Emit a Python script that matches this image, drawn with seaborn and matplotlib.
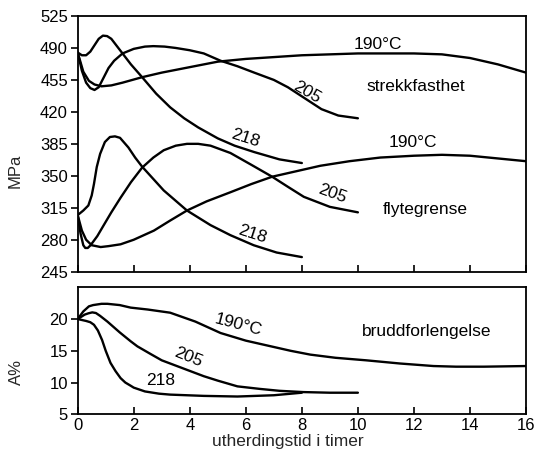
import matplotlib
matplotlib.use("Agg")
import matplotlib.pyplot as plt
import seaborn as sns

# ---------------- data ----------------
x_ticks = [0, 2, 4, 6, 8, 10, 12, 14, 16]
mpa_ticks = [245, 280, 315, 350, 385, 420, 455, 490, 525]
a_ticks = [5, 10, 15, 20]

# strekkfasthet (tensile strength), MPa
ts190_t = [0, 0.2, 0.4, 0.6, 0.85, 1.2, 1.6, 2.3, 3, 4, 5, 6, 7, 8, 9, 10, 11, 12, 13, 14, 15, 16]
ts190_v = [485, 464, 454, 450, 448, 449, 452, 458, 463, 469, 475, 478, 480, 482, 483, 484, 484, 484, 483, 479, 472, 463]

ts205_t = [0, 0.15, 0.3, 0.45, 0.6, 0.75, 0.9, 1.1, 1.3, 1.6, 2.0, 2.4, 2.7, 3.1, 3.5, 4.0, 4.5, 5.1, 5.7, 6.3, 7.0, 7.5, 8.0, 8.7, 9.3, 10]
ts205_v = [485, 465, 452, 446, 444, 447, 456, 468, 476, 484, 489, 491.5, 492, 491.5, 490, 487.5, 484, 476, 470, 463, 455, 447, 437, 423, 416, 413]

ts218_t = [0, 0.15, 0.3, 0.45, 0.6, 0.75, 0.9, 1.05, 1.2, 1.4, 1.6, 1.9, 2.3, 2.8, 3.3, 3.8, 4.3, 5.0, 5.6, 6.3, 7.2, 8.0]
ts218_v = [485, 482, 482, 486, 493, 500, 503.5, 503, 500, 492, 484, 472, 458, 440, 425, 413, 403, 391, 383, 376, 368, 364]

# flytegrense (yield strength), MPa
ys190_t = [0, 0.15, 0.3, 0.5, 0.82, 1.1, 1.53, 2.0, 2.72, 3.3, 3.9, 4.6, 5.45, 6.2, 6.94, 7.8, 8.66, 9.7, 10.8, 12, 13, 14, 15, 16]
ys190_v = [307, 290, 280, 274, 272, 273, 275, 280, 290, 301, 312, 322, 332, 341, 349, 355, 361, 366, 370, 372, 373, 372, 369, 366]

ys205_t = [0, 0.1, 0.2, 0.27, 0.36, 0.46, 0.7, 0.93, 1.2, 1.53, 1.9, 2.3, 2.7, 3.07, 3.5, 3.9, 4.3, 4.74, 5.45, 6.2, 6.94, 7.5, 8.07, 9.0, 10]
ys205_v = [307, 287, 274, 271, 271, 274, 284, 296, 310, 326, 343, 359, 370, 378, 383, 385, 385, 383, 375, 362, 349, 338, 327, 316, 310]

ys218_t = [0, 0.2, 0.38, 0.5, 0.58, 0.68, 0.8, 0.97, 1.15, 1.33, 1.51, 1.81, 2.05, 2.3, 3.07, 3.9, 4.74, 5.45, 6.28, 7.1, 8.0]
ys218_v = [307, 312, 317.5, 328.5, 341, 359.6, 374, 387, 392.5, 393.2, 391.6, 381, 370, 360, 334, 312, 296, 285, 274, 266, 261]

# bruddforlengelse (elongation), A%
el190_t = [0, 0.2, 0.4, 0.55, 0.85, 1.06, 1.5, 1.89, 2.5, 3.3, 4.2, 5.1, 6.0, 6.9, 7.6, 8.3, 9.2, 10.3, 11.5, 12.7, 13.5, 14.5, 16]
el190_v = [20, 21.2, 22.0, 22.2, 22.4, 22.4, 22.2, 21.8, 21.5, 21.0, 19.6, 17.8, 16.6, 15.7, 15.0, 14.4, 13.9, 13.5, 13.0, 12.6, 12.5, 12.5, 12.6]

el205_t = [0, 0.25, 0.38, 0.52, 0.65, 0.8, 1.06, 1.5, 1.89, 2.13, 2.6, 3.0, 3.9, 4.5, 5.0, 5.7, 6.5, 7.2, 8.05, 9.0, 10]
el205_v = [20, 20.7, 20.9, 21.05, 20.95, 20.5, 19.6, 17.9, 16.5, 15.7, 14.5, 13.5, 12.0, 11.0, 10.3, 9.4, 9.0, 8.7, 8.5, 8.4, 8.4]

el218_t = [0, 0.3, 0.45, 0.58, 0.72, 0.87, 1.0, 1.17, 1.35, 1.53, 1.7, 1.89, 2.0, 2.2, 2.4, 2.9, 3.3, 4.5, 5.7, 7.0, 8.0]
el218_v = [20, 19.7, 19.5, 19.1, 18.2, 16.7, 15.0, 13.1, 11.8, 10.7, 10.0, 9.5, 9.2, 8.9, 8.6, 8.25, 8.1, 7.9, 7.8, 8.0, 8.4]

# ---------------- style ----------------
sns.set_theme(style="ticks")
plt.rcParams['font.family'] = ['Liberation Sans', 'DejaVu Sans']
plt.rcParams['axes.edgecolor'] = 'black'
plt.rcParams['axes.linewidth'] = 1.3
FS = 12.5
TFS = 12

fig = plt.figure(figsize=(5.37, 4.54), dpi=100)
W, H = 537.0, 454.0
L, R = 77.7, 526.0
ax1 = fig.add_axes([L / W, 1 - 271.7 / H, (R - L) / W, (271.7 - 16) / H])
ax2 = fig.add_axes([L / W, 1 - 414.3 / H, (R - L) / W, (414.3 - 287.3) / H])

LW = 1.7
for t, v in [(ts190_t, ts190_v), (ts205_t, ts205_v), (ts218_t, ts218_v),
             (ys190_t, ys190_v), (ys205_t, ys205_v), (ys218_t, ys218_v)]:
    sns.lineplot(x=t, y=v, ax=ax1, color='black', linewidth=LW, legend=False)
for t, v in [(el190_t, el190_v), (el205_t, el205_v), (el218_t, el218_v)]:
    sns.lineplot(x=t, y=v, ax=ax2, color='black', linewidth=LW, legend=False)

for ax in (ax1, ax2):
    ax.set_xlim(0, 16)
    ax.set_xticks(x_ticks)
    ax.tick_params(axis='x', direction='in', length=5, width=1.2, colors='black',
                   labelsize=TFS, pad=3)
    ax.tick_params(axis='y', direction='out', length=5, width=1.2, colors='black',
                   labelsize=TFS, pad=2)
    for s in ax.spines.values():
        s.set_visible(True)
        s.set_color('black')
        s.set_linewidth(1.3)

ax1.set_ylim(245, 525)
ax1.set_yticks(mpa_ticks)
ax1.set_xticklabels([])
ax1.set_ylabel('MPa', fontsize=TFS)
ax1.yaxis.set_label_coords(-0.123, 0.394)
ax1.set_xlabel('')

ax2.set_ylim(5, 25)
ax2.set_yticks(a_ticks)
ax2.set_ylabel('A%', fontsize=TFS)
ax2.yaxis.set_label_coords(-0.12, 0.333)
ax2.set_xlabel('utherdingstid i timer', fontsize=12.5)
ax2.xaxis.set_label_coords(0.469, -0.158)

tk = dict(color='black', ha='center', va='center', fontsize=FS)
ax1.text(10.7, 494, '190°C', **tk)
ax1.text(12.05, 448, 'strekkfasthet', **tk)
ax1.text(8.18, 441.5, '205', rotation=-30, **tk)
ax1.text(5.97, 391.6, '218', rotation=-18, **tk)
ax1.text(11.96, 386.6, '190°C', **tk)
ax1.text(9.07, 330.7, '205', rotation=-20, **tk)
ax1.text(12.4, 313.6, 'flytegrense', **tk)
ax1.text(6.22, 286.2, '218', rotation=-18, **tk)

ax2.text(5.72, 19.1, '190°C', rotation=-15, **tk)
ax2.text(3.94, 14.05, '205', rotation=-22, **tk)
ax2.text(2.97, 10.4, '218', **tk)
ax2.text(12.47, 18.1, 'bruddforlengelse', **tk)

fig.savefig('out.png', dpi=100)
